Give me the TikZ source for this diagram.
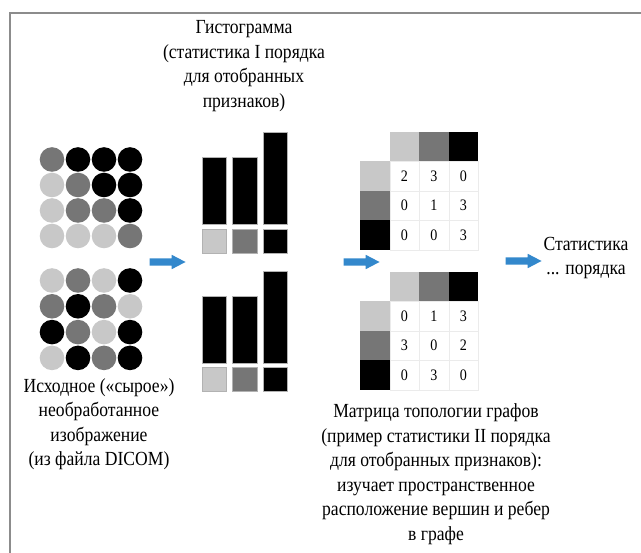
\documentclass[tikz,border=0pt]{standalone}
\usepackage{fontspec}
\setmainfont{Liberation Serif}[FakeStretch=0.88]
\usetikzlibrary{shapes.arrows}

\definecolor{lightpix}{HTML}{C8C8C8}
\definecolor{midpix}{HTML}{767676}
\definecolor{darkpix}{HTML}{000000}
\definecolor{flowblue}{HTML}{3388CC}
\definecolor{framegray}{HTML}{8C8C8C}

\begin{document}
\begin{tikzpicture}[x=1pt, y=-1pt,
  pix/.style={circle, inner sep=0pt, minimum size=24.6pt},
  bar/.style={draw=gray!60, line width=0.6pt},
  cell/.style={draw=black!8, line width=0.4pt, minimum size=29.5pt, inner sep=0pt,
               font=\fontsize{16}{16}\selectfont},
  caption/.style={align=center, font=\fontsize{20}{24.5}\selectfont},
  flow/.style={single arrow, fill=flowblue, inner xsep=0pt, inner ysep=3.5pt,
               minimum height=36pt, single arrow head extend=3.5pt,
               single arrow tip angle=55}
]
\useasboundingbox (0,0) rectangle (641,553);
\draw[framegray, line width=2pt] (10,560) -- (10,13) -- (650,13);

% raw image, two pixel grids
\foreach \shade [count=\i from 0] in {midpix,darkpix,darkpix,darkpix,
    lightpix,midpix,darkpix,darkpix, lightpix,midpix,midpix,darkpix,
    lightpix,lightpix,lightpix,midpix} {
  \pgfmathtruncatemacro\r{div(\i,4)}
  \pgfmathtruncatemacro\c{mod(\i,4)}
  \node[pix, fill=\shade] (up-\r-\c) at (52+26*\c, 159.5+25.5*\r) {};
}
\foreach \shade [count=\i from 0] in {lightpix,midpix,lightpix,darkpix,
    midpix,darkpix,midpix,lightpix, darkpix,midpix,lightpix,darkpix,
    lightpix,darkpix,midpix,darkpix} {
  \pgfmathtruncatemacro\r{div(\i,4)}
  \pgfmathtruncatemacro\c{mod(\i,4)}
  \node[pix, fill=\shade] (lo-\r-\c) at (52+26*\c, 280.5+25.8*\r) {};
}

% histograms
\foreach \x/\top/\shade in {202/157/lightpix, 232.5/157/midpix, 263/132/darkpix} {
  \filldraw[bar, fill=darkpix] (\x,224) rectangle (\x+24.5,\top);
  \filldraw[bar, fill=\shade] (\x,229) rectangle (\x+24.5,253);
}
\foreach \x/\top/\shade in {202/296/lightpix, 232.5/296/midpix, 263/271/darkpix} {
  \filldraw[bar, fill=darkpix] (\x,363) rectangle (\x+24.5,\top);
  \filldraw[bar, fill=\shade] (\x,367) rectangle (\x+24.5,391);
}

% co-occurrence matrices
\foreach \shade [count=\k from 0] in {lightpix,midpix,darkpix} {
  \node[cell, draw=none, fill=\shade] (th-\k) at (404.5+29.5*\k, 146.5) {};
  \node[cell, draw=none, fill=\shade] (tl-\k) at (375, 176+29.5*\k) {};
  \node[cell, draw=none, fill=\shade] (bh-\k) at (404.5+29.5*\k, 286.5) {};
  \node[cell, draw=none, fill=\shade] (bl-\k) at (375, 316+29.5*\k) {};
}
\foreach \v [count=\i from 0] in {2,3,0,0,1,3,0,0,3} {
  \pgfmathtruncatemacro\r{div(\i,3)}
  \pgfmathtruncatemacro\c{mod(\i,3)}
  \node[cell] (tm-\r-\c) at (404.5+29.5*\c, 176+29.5*\r) {\v};
}
\foreach \v [count=\i from 0] in {0,1,3,3,0,2,0,3,0} {
  \pgfmathtruncatemacro\r{div(\i,3)}
  \pgfmathtruncatemacro\c{mod(\i,3)}
  \node[cell] (bm-\r-\c) at (404.5+29.5*\c, 316+29.5*\r) {\v};
}

% flow arrows
\node[flow] (toHist) at (164,262) {};
\node[flow] (toGlcm) at (358,262) {};
\node[flow] (toStat) at (520,261) {};

% captions
\node[caption] (histCap) at (244,66) {Гистограмма\\(статистика I порядка\\для отобранных\\признаков)};
\node[caption] (rawCap) at (99,424) {Исходное («сырое»)\\необработанное\\изображение\\(из файла DICOM)};
\node[caption] (statCap) at (586,258) {Статистика\\... порядка};
\node[caption] (glcmCap) at (436,474) {Матрица топологии графов\\(пример статистики II порядка\\для отобранных признаков):\\изучает пространственное\\расположение вершин и ребер\\в графе};
\end{tikzpicture}
\end{document}
